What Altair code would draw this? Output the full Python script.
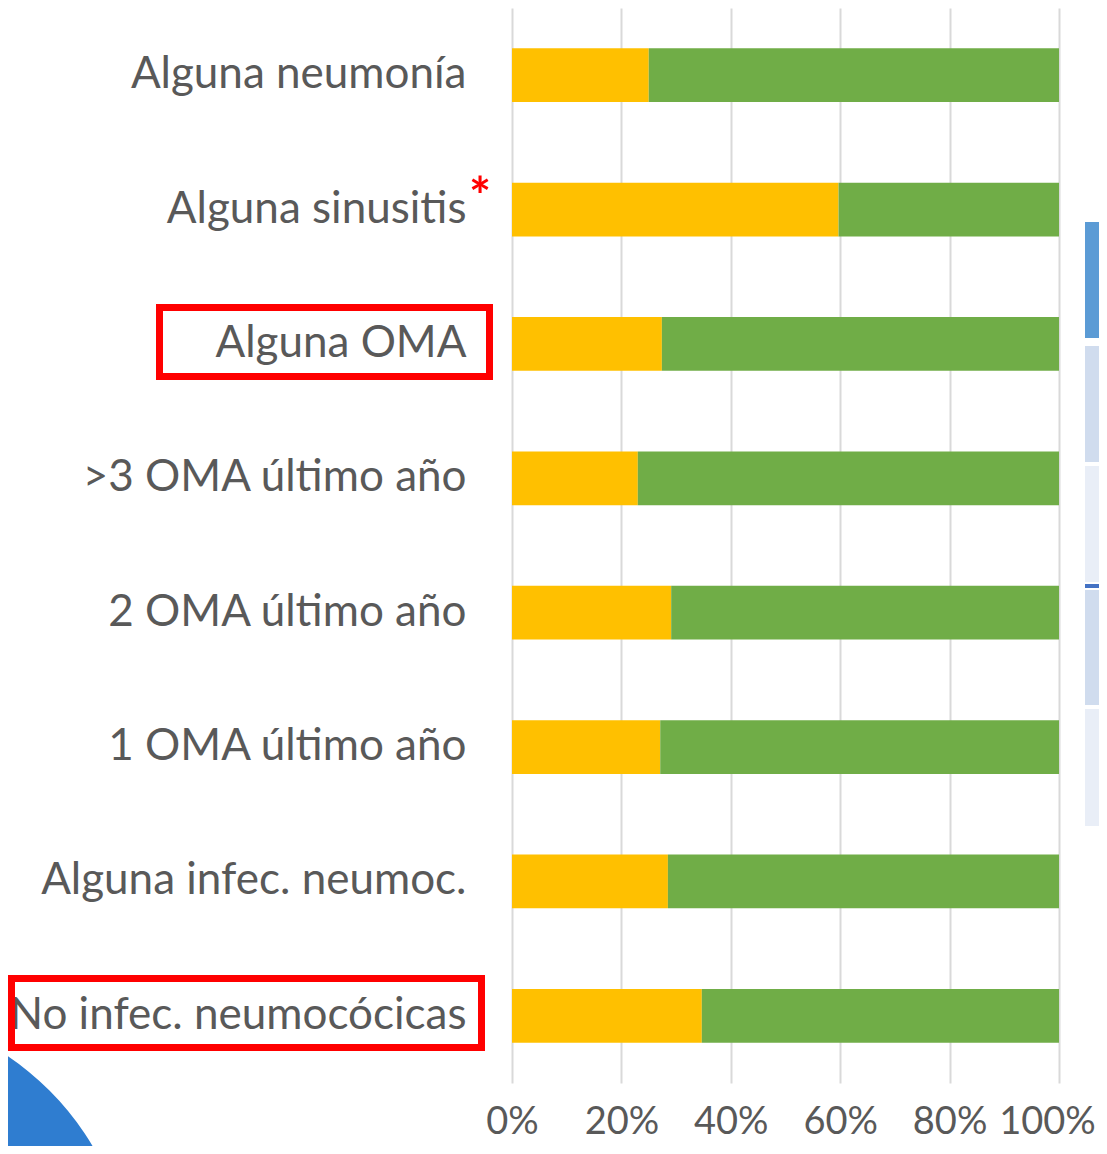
import altair as alt
import pandas as pd

categories = [
    "Alguna neumonía",
    "Alguna sinusitis",
    "Alguna OMA",
    ">3 OMA último año",
    "2 OMA último año",
    "1 OMA último año",
    "Alguna infec. neumoc.",
    "No infec. neumocócicas",
]
yellow_values = [25, 59.7, 27.4, 23, 29.1, 27.1, 28.5, 34.7]
green_values = [75, 40.3, 72.6, 77, 70.9, 72.9, 71.5, 65.3]
series_names = ["A", "B"]
series_colors = ["#FFC000", "#70AD47"]

rows = []
for c, yv, gv in zip(categories, yellow_values, green_values):
    rows.append({"cat": c, "serie": series_names[0], "val": yv, "ord": 0})
    rows.append({"cat": c, "serie": series_names[1], "val": gv, "ord": 1})
df = pd.DataFrame(rows)

FONT = "Lato"
W, H = 547, 1075

bars = alt.Chart(df).mark_bar().encode(
    y=alt.Y("cat:N", sort=categories,
            scale=alt.Scale(paddingInner=0.6, paddingOuter=0.3),
            axis=alt.Axis(title=None, domain=False, ticks=False, labelFontSize=44,
                          labelFont=FONT, labelColor="#595959", labelPadding=46,
                          labelLimit=600, grid=False)),
    x=alt.X("val:Q", stack="normalize",
            scale=alt.Scale(domain=[0, 1], nice=False),
            axis=alt.Axis(title=None, format=".0%", values=[0, 0.2, 0.4, 0.6, 0.8, 1.0],
                          domain=False, ticks=False, labelFontSize=38, labelFont=FONT,
                          labelColor="#595959", labelPadding=20, gridColor="#D9D9D9",
                          gridWidth=2, labelFlush=False,
                          labelOffset={"condition": {"test": "datum.value >= 0.99", "value": -12},
                                       "value": 0})),
    color=alt.Color("serie:N", scale=alt.Scale(domain=series_names, range=series_colors),
                    legend=None),
    order=alt.Order("ord:Q"),
)

# decorations: red highlight boxes around two labels
box_df = pd.DataFrame({"k": [0]})
box1 = alt.Chart(box_df).mark_rect(fill=None, stroke="#FF0000", strokeWidth=7).encode(
    x=alt.value(-352.5), x2=alt.value(-22.5), y=alt.value(299.5), y2=alt.value(368.5))
box2 = alt.Chart(box_df).mark_rect(fill=None, stroke="#FF0000", strokeWidth=7).encode(
    x=alt.value(-500.5), x2=alt.value(-30.5), y=alt.value(970.5), y2=alt.value(1039.5))
star = alt.Chart(box_df).mark_text(text="*", color="#FF0000", fontSize=52, font=FONT,
                                   baseline="top", align="center", fontWeight="bold").encode(
    x=alt.value(-32), y=alt.value(166))

# photo fragment at bottom-left (blue disc)
disc = alt.Chart(box_df).mark_arc(color="#2F7DD0", radius=282, theta=0, theta2=6.2832).encode(
    x=alt.value(-662), y=alt.value(1282))

# clipped table at right edge
tbl_df = pd.DataFrame({
    "y0": [214, 338, 458, 576, 582, 701],
    "y1": [330, 454, 574, 580, 697, 818],
    "c": ["#5B9BD5", "#D0DCEE", "#E9EEF7", "#4472C4", "#D0DCEE", "#E9EEF7"],
})
tbl = alt.Chart(tbl_df).mark_rect().encode(
    x=alt.value(573), x2=alt.value(600),
    y=alt.Y("y0:Q", scale=None), y2="y1:Q",
    color=alt.Color("c:N", scale=None),
)

chart = alt.layer(disc, bars, box1, box2, star, tbl).properties(
    width=W, height=H,
    autosize=alt.AutoSizeParams(type="none"),
    padding={"left": 504, "top": 0, "right": 40, "bottom": 63},
).configure_view(stroke=None)

chart.save("out.html", embed_options={"renderer": "svg", "actions": False})
